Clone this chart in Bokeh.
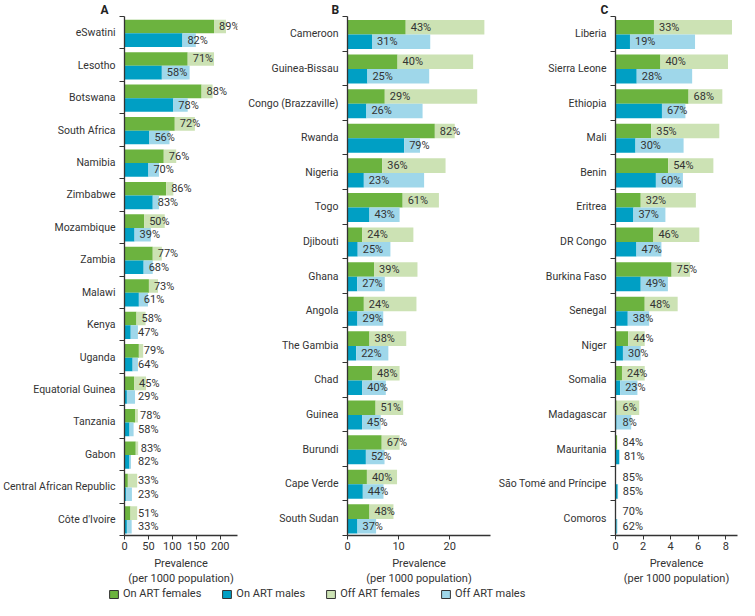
from bokeh.plotting import figure
from bokeh.models import (Range1d, FixedTicker, ColumnDataSource, Legend, LegendItem)
from bokeh.layouts import column, row
from bokeh.core.properties import value
from bokeh.embed import file_html
from bokeh.resources import INLINE

# ---------------- data ----------------
a_countries = ["eSwatini", "Lesotho", "Botswana", "South Africa", "Namibia", "Zimbabwe",
               "Mozambique", "Zambia", "Malawi", "Kenya", "Uganda", "Equatorial Guinea",
               "Tanzania", "Gabon", "Central African Republic", "Côte d'Ivoire"]
a_on_f = [187, 132, 161, 105, 82, 87, 41, 59, 51, 25, 30, 20, 22, 23.5, 7, 12.5]
a_tot_f = [212, 187, 184, 147, 108, 102, 84, 78, 70, 44, 39, 45, 28, 28.5, 26.5, 26.5]
a_on_m = [121, 78, 102, 52, 50, 59, 21, 40, 30, 13, 17, 5, 10.5, 10.5, 3, 5]
a_tot_m = [149, 136, 132, 94, 72, 72, 55, 59, 49, 28, 28, 22, 19, 13.5, 15.5, 15]
a_pct_f = [89, 71, 88, 72, 76, 86, 50, 77, 73, 58, 79, 45, 78, 83, 33, 51]
a_pct_m = [82, 58, 78, 56, 70, 83, 39, 68, 61, 47, 64, 29, 58, 82, 23, 33]

b_countries = ["Cameroon", "Guinea-Bissau", "Congo (Brazzaville)", "Rwanda", "Nigeria", "Togo",
               "Djibouti", "Ghana", "Angola", "The Gambia", "Chad", "Guinea", "Burundi",
               "Cape Verde", "South Sudan"]
b_on_f = [11.4, 9.8, 7.3, 17.1, 6.8, 10.8, 2.9, 5.2, 3.2, 4.3, 4.8, 5.5, 6.7, 3.8, 4.3]
b_tot_f = [26.8, 24.6, 25.4, 21.0, 19.2, 17.9, 12.9, 13.7, 13.5, 11.5, 10.2, 10.9, 10.2, 9.7, 9.0]
b_on_m = [4.8, 3.9, 3.7, 11.1, 3.2, 4.3, 2.0, 1.9, 1.95, 1.7, 2.9, 2.85, 3.6, 3.0, 1.95]
b_tot_m = [16.2, 16.0, 14.7, 14.2, 15.0, 10.2, 8.4, 7.3, 7.0, 8.0, 7.5, 6.5, 7.25, 7.05, 5.6]
b_pct_f = [43, 40, 29, 82, 36, 61, 24, 39, 24, 38, 48, 51, 67, 40, 48]
b_pct_m = [31, 25, 26, 79, 23, 43, 25, 27, 29, 22, 40, 45, 52, 44, 37]

c_countries = ["Liberia", "Sierra Leone", "Ethiopia", "Mali", "Benin", "Eritrea", "DR Congo",
               "Burkina Faso", "Senegal", "Niger", "Somalia", "Madagascar", "Mauritania",
               "São Tomé and Príncipe", "Comoros"]
c_on_f = [2.79, 3.26, 5.3, 2.59, 3.82, 1.83, 2.75, 4.07, 2.12, 0.92, 0.47, 0.09, 0.11, 0.025, 0.01]
c_tot_f = [8.45, 8.16, 7.75, 7.53, 7.1, 5.83, 6.08, 5.41, 4.51, 2.12, 2.12, 1.72, 0.13, 0.03, 0.014]
c_on_m = [1.05, 1.54, 3.37, 1.45, 2.93, 1.3, 1.52, 1.83, 0.89, 0.54, 0.34, 0.08, 0.26, 0.16, 0.09]
c_tot_m = [5.77, 5.56, 5.07, 4.94, 4.89, 3.62, 3.33, 3.8, 2.44, 1.83, 1.59, 1.14, 0.31, 0.19, 0.14]
c_pct_f = [33, 40, 68, 35, 54, 32, 46, 75, 48, 44, 24, 6, 84, 85, 70]
c_pct_m = [19, 28, 67, 30, 60, 37, 47, 49, 38, 30, 23, 8, 81, 85, 62]

a_ticks = [0, 50, 100, 150, 200]
b_ticks = [0, 10, 20]
c_ticks = [0, 2, 4, 6, 8]

series_labels = ["On ART females", "On ART males", "Off ART females", "Off ART males"]

# ---------------- style ----------------
FONT = "Roboto"
C_ON_F = "#6cb33f"
C_ON_M = "#009fc4"
C_OFF_F = "#cce2b4"
C_OFF_M = "#9fd7ea"
INK = "#333333"
H = 588


def make_panel(letter, countries, on_f, tot_f, on_m, tot_m, pct_f, pct_m, xmax, ticks,
               width, bl, br, label_min, title_off):
    n = len(countries)
    centers = [n - 1 - i for i in range(n)]
    p = figure(width=width, height=H, x_range=Range1d(0, xmax),
               y_range=Range1d(-0.5, n - 0.5), output_backend="svg",
               toolbar_location=None, min_border_left=bl, min_border_right=br,
               min_border_top=13, min_border_bottom=48)
    p.outline_line_color = None
    p.xgrid.visible = False
    p.ygrid.visible = False

    src = ColumnDataSource(dict(
        yf=[c + 0.19 for c in centers], ym=[c - 0.23 for c in centers],
        on_f=on_f, tot_f=tot_f, on_m=on_m, tot_m=tot_m,
        zero=[0] * n,
        lf=[f"{v}%" for v in pct_f], lm=[f"{v}%" for v in pct_m],
        xf=[max(v, label_min) for v in on_f], xm=[max(v, label_min) for v in on_m],
    ))
    hh = 0.42
    p.hbar(y="yf", left="zero", right="on_f", height=hh, source=src,
           fill_color=C_ON_F, line_color=None)
    p.hbar(y="yf", left="on_f", right="tot_f", height=hh, source=src,
           fill_color=C_OFF_F, line_color=None)
    p.hbar(y="ym", left="zero", right="on_m", height=hh, source=src,
           fill_color=C_ON_M, line_color=None)
    p.hbar(y="ym", left="on_m", right="tot_m", height=hh, source=src,
           fill_color=C_OFF_M, line_color=None)
    for xk, yk, tk in (("xf", "yf", "lf"), ("xm", "ym", "lm")):
        p.text(x=xk, y=yk, text=tk, source=src, x_offset=5,
               text_font=value(FONT), text_font_size=value("11px"),
               text_color=INK, text_baseline="middle", text_align="left")

    # y axis: labels at centres, ticks at category boundaries
    ya = p.yaxis[0]
    ya.ticker = FixedTicker(ticks=centers, minor_ticks=[k - 0.5 for k in range(n + 1)])
    ya.major_label_overrides = {c: countries[i] for i, c in enumerate(centers)}
    ya.major_tick_in = 0
    ya.major_tick_out = 0
    ya.minor_tick_in = 0
    ya.minor_tick_out = 5
    ya.minor_tick_line_color = INK
    ya.axis_line_color = INK
    ya.axis_line_width = 1.3
    ya.major_label_standoff = 4
    ya.major_label_text_font = FONT
    ya.major_label_text_font_size = "10.5px"
    ya.major_label_text_color = INK

    xa = p.xaxis[0]
    xa.ticker = FixedTicker(ticks=ticks, minor_ticks=[])
    xa.major_tick_in = 0
    xa.major_tick_out = 4
    xa.major_tick_line_color = INK
    xa.axis_line_color = INK
    xa.axis_line_width = 1.3
    xa.major_label_standoff = 2
    xa.major_label_text_font = FONT
    xa.major_label_text_font_size = "11px"
    xa.major_label_text_color = INK
    xa.axis_label = "Prevalence\n(per 1000 population)"
    xa.axis_label_text_font = FONT
    xa.axis_label_text_font_size = "11px"
    xa.axis_label_text_font_style = "normal"
    xa.axis_label_text_color = INK
    xa.axis_label_standoff = 4

    p.title.text = letter
    p.title.align = "left"
    p.title.offset = title_off
    p.title.standoff = 0
    p.title.text_font = "Roboto"
    p.title.text_font_size = "12px"
    p.title.text_font_style = "bold"
    p.title.text_color = "#222222"
    return p


pa = make_panel("A", a_countries, a_on_f, a_tot_f, a_on_m, a_tot_m, a_pct_f, a_pct_m,
                236, a_ticks, 245, 114, 8, 18, -24)
pb = make_panel("B", b_countries, b_on_f, b_tot_f, b_on_m, b_tot_m, b_pct_f, b_pct_m,
                28, b_ticks, 250, 102, 5, 1.0, -16)
pc = make_panel("C", c_countries, c_on_f, c_tot_f, c_on_m, c_tot_m, c_pct_f, c_pct_m,
                8.85, c_ticks, 244, 117, 2, 0.15, -15)

# ---------------- legend strip ----------------
# proxy bars built from the first data row, kept outside the visible range so only
# the legend swatches show
pl = figure(width=739, height=12, x_range=Range1d(-2, -1), y_range=Range1d(0, 1),
            output_backend="svg", toolbar_location=None,
            x_axis_location=None, y_axis_location=None,
            min_border_left=0, min_border_right=0, min_border_top=0, min_border_bottom=0)
pl.outline_line_color = None
pl.xgrid.visible = False
pl.ygrid.visible = False
proxy_vals = [a_on_f[0], a_on_m[0], a_tot_f[0], a_tot_m[0]]
items = []
for lab, col, v in zip(series_labels, [C_ON_F, C_ON_M, C_OFF_F, C_OFF_M], proxy_vals):
    r = pl.hbar(y=[0.5], left=[0], right=[v], height=0.5, fill_color=col,
                line_color=INK, line_width=1)
    items.append(LegendItem(label=lab, renderers=[r]))
leg = Legend(items=items, orientation="horizontal", location=(108, 0),
             glyph_width=11, glyph_height=10, label_standoff=4, spacing=20,
             padding=0, margin=0, border_line_color=None, background_fill_alpha=0,
             label_text_font=FONT, label_text_font_size="11px", label_text_color=INK,
             label_height=12)
pl.add_layout(leg, "center")

layout = column(row(pa, pb, pc, spacing=0), pl, spacing=0)

open("out.html", "w").write(file_html(layout, INLINE))
